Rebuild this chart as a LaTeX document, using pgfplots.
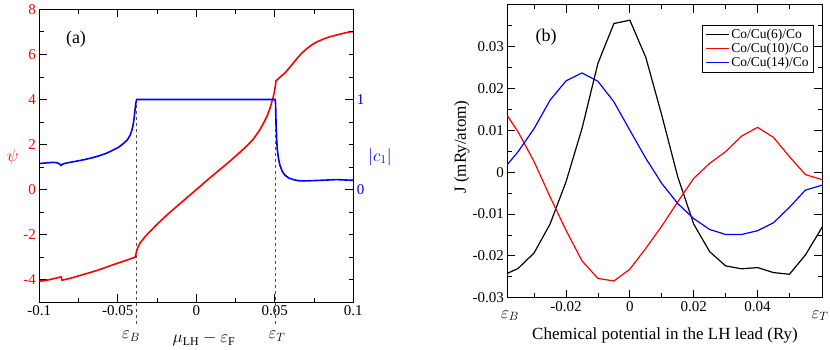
\documentclass[border=0pt]{standalone}
\usepackage{fontspec}
\setmainfont{Liberation Serif}
\usepackage{pgfplots}
\pgfplotsset{compat=1.18}
\pgfplotsset{
  grstyle/.style={
    scale only axis, anchor=south west,
    tick align=inside,
    major tick length=8pt, minor tick length=4.5pt,
    every tick/.style={black, line width=0.8pt},
    axis line style={line width=0.9pt},
    tick label style={font=\fontsize{15}{17}\selectfont},
    /pgf/number format/assume math mode=true,
    scaled ticks=false,
  },
}
\begin{document}
\begin{tikzpicture}
\useasboundingbox (0pt,0pt) rectangle (830pt,349pt);
% ---------------- panel (a), left axis
\begin{axis}[grstyle, at={(39.3pt,46.7pt)}, width=314pt, height=293pt,
  xmin=-0.1, xmax=0.1, ymin=-5, ymax=8,
  xtick={-0.1,-0.05,0,0.05,0.1}, xticklabels={-0.1,-0.05,0,0.05,0.1},
  minor xtick={-0.075,-0.025,0.025,0.075},
  ytick={-4,-2,0,2,4,6,8}, yticklabels={-4,-2,0,2,4,6,8},
  minor ytick={-3,-1,1,3,5,7},
  ytick pos=left, yticklabel style={red},
  clip=false]
\addplot[black!70, line width=0.8pt, dash pattern=on 3pt off 3pt] coordinates {(-0.038,4) (-0.038,-6.1)};
\addplot[black!70, line width=0.8pt, dash pattern=on 3pt off 3pt] coordinates {(0.0505,4) (0.0505,-6.1)};
\addplot[red, line width=1.6pt] coordinates {
(-0.1,-4.06) (-0.0965,-4.04) (-0.0932,-3.99) (-0.0895,-3.93) (-0.0862,-3.87)
(-0.0855,-4.02) (-0.08,-3.93) (-0.0741,-3.81) (-0.0687,-3.70) (-0.0634,-3.59)
(-0.058,-3.46) (-0.0529,-3.33) (-0.046,-3.17) (-0.039,-3.0) (-0.0385,-2.88)
(-0.038,-2.72) (-0.037,-2.53) (-0.0359,-2.38) (-0.033,-2.12) (-0.03,-1.89)
(-0.025,-1.54) (-0.02,-1.21) (-0.015,-0.90) (-0.01,-0.60) (-0.005,-0.30)
(0,0.0) (0.005,0.30) (0.01,0.60) (0.015,0.89) (0.02,1.18)
(0.025,1.48) (0.03,1.80) (0.0335,2.03) (0.0363,2.24) (0.04,2.60)
(0.0427,2.93) (0.045,3.25) (0.0469,3.6) (0.049,4.1) (0.05,4.45)
(0.0508,4.83) (0.0535,5.0) (0.0565,5.18) (0.059,5.38) (0.0618,5.62)
(0.0645,5.85) (0.0671,6.05) (0.0703,6.25) (0.0735,6.42) (0.077,6.56)
(0.0809,6.68) (0.085,6.78) (0.0894,6.86) (0.094,6.94) (0.0979,7.0) (0.1,7.0)};
\end{axis}
% ---------------- panel (a), right axis
\begin{axis}[grstyle, at={(39.3pt,46.7pt)}, width=314pt, height=293pt,
  xmin=-0.1, xmax=0.1, ymin=-1.25, ymax=2,
  axis y line*=right, axis x line=none,
  ytick={0,1}, yticklabels={0,1},
  minor ytick={-1,-0.75,-0.5,-0.25,0.25,0.5,0.75,1.25,1.5,1.75},
  yticklabel style={blue}]
\addplot[blue, line width=1.6pt] coordinates {
(-0.1,0.289) (-0.095,0.297) (-0.0911,0.302) (-0.0885,0.297) (-0.0873,0.287)
(-0.0862,0.267) (-0.0852,0.282) (-0.0835,0.292) (-0.078,0.31) (-0.072,0.330)
(-0.0665,0.352) (-0.0614,0.378) (-0.057,0.405) (-0.0529,0.44) (-0.0495,0.47)
(-0.0465,0.51) (-0.044,0.55) (-0.0422,0.60) (-0.041,0.66) (-0.0401,0.73)
(-0.0395,0.81) (-0.039,0.89) (-0.0385,0.96) (-0.038,1.0) (0.0502,1.0)
(0.0505,0.95) (0.0508,0.733) (0.0512,0.56) (0.0516,0.44) (0.0524,0.34)
(0.0533,0.27) (0.0548,0.20) (0.0565,0.159) (0.059,0.128) (0.0618,0.111)
(0.065,0.099) (0.0682,0.096) (0.0735,0.099) (0.0788,0.103) (0.0894,0.111) (0.1,0.103)};
\end{axis}
\node[red, font=\fontsize{17}{20}\selectfont] at (12.7pt,192pt) {$\psi$};
\node[blue, font=\fontsize{17}{20}\selectfont] at (380pt,192pt) {$|c_1|$};
\node[font=\fontsize{18}{20}\selectfont] at (76pt,310pt) {(a)};
\node[font=\fontsize{17}{20}\selectfont, anchor=base] at (131pt,10.5pt) {$\varepsilon_B$};
\node[font=\fontsize{17}{20}\selectfont, anchor=base] at (277pt,10.5pt) {$\varepsilon_T$};
\node[font=\fontsize{17}{20}\selectfont, anchor=base] at (204pt,6.5pt) {$\mu_{\mathrm{LH}}-\varepsilon_{\mathrm{F}}$};
% ---------------- panel (b)
\begin{axis}[grstyle, at={(507.3pt,51.3pt)}, width=315pt, height=293pt,
  xmin=-0.0384, xmax=0.0603, ymin=-0.03, ymax=0.04,
  xtick={-0.02,0,0.02,0.04}, xticklabels={-0.02,0,0.02,0.04},
  minor xtick={-0.03,-0.01,0.01,0.03,0.05},
  ytick={-0.03,-0.02,-0.01,0,0.01,0.02,0.03},
  yticklabels={-0.03,-0.02,-0.01,0,0.01,0.02,0.03},
  minor ytick={-0.025,-0.015,-0.005,0.005,0.015,0.025,0.035},
  legend style={at={(0.9737,0.9307)}, anchor=north east, draw=black, line width=0.8pt,
    font=\fontsize{13.5}{15}\selectfont, row sep=-1pt, inner xsep=3pt, inner ysep=2pt},
  legend cell align=left,
  legend image code/.code={\draw[#1] (0pt,0pt) -- (23pt,0pt);},
  ]
\addplot[black, line width=1.2pt] coordinates {
(-0.0384,-0.0242) (-0.035,-0.0230) (-0.03,-0.0193) (-0.025,-0.0124) (-0.02,-0.0023)
(-0.015,0.0104) (-0.01,0.0260) (-0.005,0.0355) (0,0.0363) (0.005,0.0274)
(0.01,0.0136) (0.015,-0.0011) (0.02,-0.0124) (0.025,-0.0190) (0.03,-0.0224)
(0.035,-0.0231) (0.04,-0.0228) (0.045,-0.0240) (0.05,-0.0244) (0.055,-0.0198)
(0.0603,-0.0131)};
\addlegendentry{Co/Cu(6)/Co}
\addplot[red, line width=1.2pt] coordinates {
(-0.0384,0.0135) (-0.035,0.0096) (-0.03,0.0025) (-0.025,-0.0059) (-0.02,-0.0139)
(-0.015,-0.0212) (-0.01,-0.0254) (-0.005,-0.0260) (0,-0.0232) (0.005,-0.0182)
(0.01,-0.0129) (0.015,-0.0071) (0.02,-0.0015) (0.025,0.0021) (0.03,0.0049)
(0.035,0.0086) (0.04,0.0107) (0.045,0.0083) (0.05,0.0037) (0.055,-0.0006)
(0.0603,-0.0018)};
\addlegendentry{Co/Cu(10)/Co}
\addplot[blue, line width=1.2pt] coordinates {
(-0.0384,0.0018) (-0.035,0.0049) (-0.03,0.0104) (-0.025,0.0172) (-0.02,0.0218)
(-0.015,0.0237) (-0.01,0.0217) (-0.005,0.0168) (0,0.0100) (0.005,0.0033)
(0.01,-0.0027) (0.015,-0.0075) (0.02,-0.0111) (0.025,-0.0137) (0.03,-0.0149)
(0.035,-0.0149) (0.04,-0.0140) (0.045,-0.0121) (0.05,-0.0084) (0.055,-0.0043)
(0.0603,-0.0031)};
\addlegendentry{Co/Cu(14)/Co}
\end{axis}
\node[font=\fontsize{18}{20}\selectfont] at (546pt,312pt) {(b)};
\node[font=\fontsize{17}{20}\selectfont, anchor=base] at (510pt,31pt) {$\varepsilon_B$};
\node[font=\fontsize{17}{20}\selectfont, anchor=base] at (820pt,31pt) {$\varepsilon_T$};
\node[font=\fontsize{17}{20}\selectfont, anchor=base] at (665pt,10pt) {Chemical potential in the LH lead (Ry)};
\node[font=\fontsize{17}{20}\selectfont, rotate=90] at (461.7pt,202pt) {J (mRy/atom)};
\end{tikzpicture}
\end{document}
